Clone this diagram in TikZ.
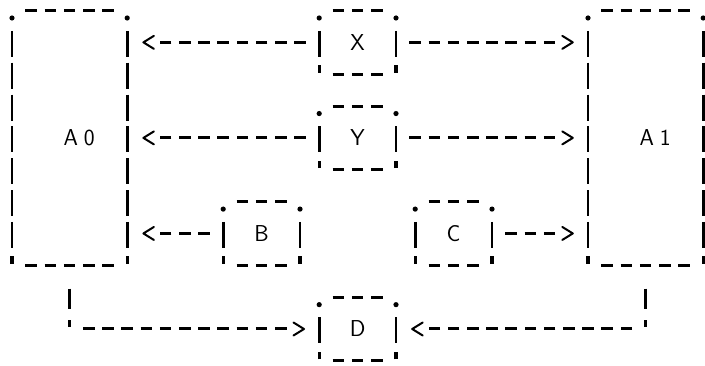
\documentclass[tikz,border=0pt]{standalone}
\usetikzlibrary{arrows.meta}

% Character-cell grid: one column = 19.2pt, one row = 31.85pt.
\tikzset{
  chev/.tip={Straight Barb[length=10.5pt,width=13pt,line width=2pt 0 1,round]},
  hdash/.style={line width=3pt, dash pattern=on 11.5pt off 7.7pt},
  vbar/.style={line width=2.8pt, dash pattern=on 26pt off 5.85pt},
  apos/.style={line width=3.2pt},
  letters/.style={font=\sffamily\fontsize{23pt}{26pt}\selectfont},
  boxnode/.style={rectangle, inner sep=0pt, outer sep=0pt, letters},
  boxS/.style={boxnode, minimum width=76.8pt, minimum height=63.7pt},
  boxL/.style={boxnode, minimum width=115.2pt, minimum height=254.8pt},
  conn/.style={line width=3pt, arrows={-chev}},
  runthree/.style={dash pattern=on 11.5pt off 7.7pt on 11.5pt off 7.7pt on 11.5pt off 80pt},
  runeight/.style={dash pattern=on 11.5pt off 7.7pt on 11.5pt off 7.7pt on 11.5pt off 7.7pt
    on 11.5pt off 7.7pt on 11.5pt off 7.7pt on 11.5pt off 7.7pt on 11.5pt off 7.7pt
    on 11.5pt off 80pt},
  elbowrun/.style={dash pattern=on 20pt off 11.85pt on 7pt off 14.95pt
    on 11.5pt off 7.7pt on 11.5pt off 7.7pt on 11.5pt off 7.7pt on 11.5pt off 7.7pt
    on 11.5pt off 7.7pt on 11.5pt off 7.7pt on 11.5pt off 7.7pt on 11.5pt off 7.7pt
    on 11.5pt off 7.7pt on 11.5pt off 7.7pt on 11.5pt off 80pt},
}

% Frame of a box drawn as dots, dashes, bars and ticks
\newcommand\asciiframe[1]{%
  \draw[hdash] ([xshift=13.45pt]#1.north west) -- ([xshift=-13.45pt]#1.north east);
  \draw[hdash] ([xshift=13.45pt]#1.south west) -- ([xshift=-13.45pt]#1.south east);
  \draw[vbar] ([yshift=-20.35pt]#1.north west) -- ([yshift=17.35pt]#1.south west);
  \draw[vbar] ([yshift=-20.35pt]#1.north east) -- ([yshift=17.35pt]#1.south east);
  \fill ([yshift=-7.5pt]#1.north west) circle (2.6pt);
  \fill ([yshift=-7.5pt]#1.north east) circle (2.6pt);
  \draw[apos] ([yshift=1.5pt]#1.south west) -- ([yshift=9pt]#1.south west);
  \draw[apos] ([yshift=1.5pt]#1.south east) -- ([yshift=9pt]#1.south east);
}

\begin{document}
\begin{tikzpicture}[x=19.2pt, y=-31.85pt]
  \fill[white] (0pt,0pt) rectangle (705pt,-366pt);
  \useasboundingbox (0pt,0pt) rectangle (705pt,-366pt);
  \begin{scope}[shift={(12pt,-10.5pt)}]
    % boxes
    \node[boxL, label={[letters, xshift=9.6pt]center:{A\kern5.8pt 0}}] (A0) at (3,4) {};
    \node[boxL, label={[letters, xshift=9.6pt]center:{A\kern5.8pt 1}}] (A1) at (33,4) {};
    \node[boxS] (X) at (18,1) {X};
    \node[boxS] (Y) at (18,4) {Y};
    \node[boxS] (B) at (13,7) {B};
    \node[boxS] (C) at (23,7) {C};
    \node[boxS] (D) at (18,10) {D};
    \asciiframe{A0}
    \asciiframe{A1}
    \asciiframe{X}
    \asciiframe{Y}
    \asciiframe{B}
    \asciiframe{C}
    \asciiframe{D}

    % connectors
    \draw[conn, runeight, shorten <=13.45pt, shorten >=15.2pt] (X.west) -- (A0.east |- X.west);
    \draw[conn, runeight, shorten <=13.45pt, shorten >=14.2pt] (X.east) -- (A1.west |- X.east);
    \draw[conn, runeight, shorten <=13.45pt, shorten >=15.2pt] (Y.west) -- (A0.east |- Y.west);
    \draw[conn, runeight, shorten <=13.45pt, shorten >=14.2pt] (Y.east) -- (A1.west |- Y.east);
    \draw[conn, runthree, shorten <=13.45pt, shorten >=15.2pt] (B.west) -- (A0.east |- B.west);
    \draw[conn, runthree, shorten <=13.45pt, shorten >=14.2pt] (C.east) -- (A1.west |- C.east);
    \draw[conn, elbowrun, shorten <=23.35pt, shorten >=14.2pt] (A0.south) |- (D.west);
    \draw[conn, elbowrun, shorten <=23.35pt, shorten >=15.2pt] (A1.south) |- (D.east);
  \end{scope}
\end{tikzpicture}
\end{document}
